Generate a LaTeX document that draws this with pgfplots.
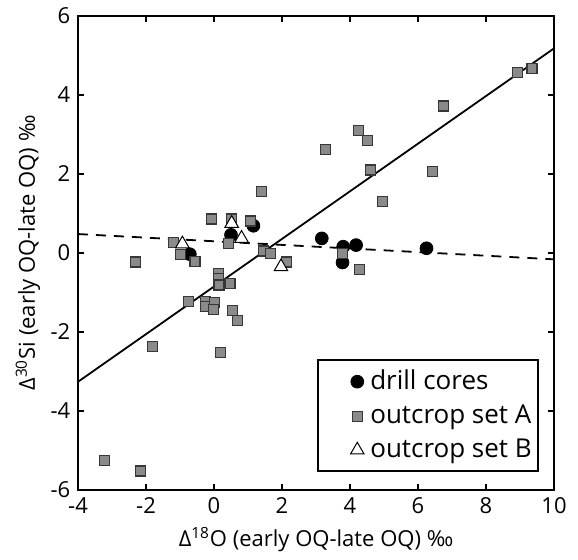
\documentclass[border=0pt]{standalone}
\usepackage{fontspec}
\setmainfont{Open Sans}
\usepackage{pgfplots}
\pgfplotsset{compat=1.18}
\definecolor{sqfill}{RGB}{138,138,138}
\definecolor{sqdraw}{RGB}{55,55,55}
\pgfplotsset{mylegimg/.style={legend image code/.code={\path[draw=none,fill=none] (0pt,-4pt) rectangle (23pt,4pt); \pgfinterruptboundingbox\draw[##1] plot coordinates {(18.5pt,0pt)};\endpgfinterruptboundingbox}}}
\begin{document}
\fontsize{11}{13}\selectfont
\begin{tikzpicture}
\path[use as bounding box] (-39pt,-34.5pt) rectangle (250pt,245pt);
\begin{axis}[
 at={(0,0)}, anchor=south west,
 scale only axis, width=238pt, height=237pt,
 xmin=-4, xmax=10, ymin=-6, ymax=6,
 xtick={-4,-2,...,10}, ytick={-6,-4,...,6},
 tick align=inside, major tick length=3pt,
 xtick pos=both, ytick pos=both,
 axis line style={line width=1pt},
 tick style={line width=0.8pt, black},
 /pgf/number format/assume math mode=true,
 ticklabel style={font=\fontsize{11}{13}\selectfont},
 xlabel={Δ\textsuperscript{18}O (early OQ-late OQ) ‰},
 ylabel={Δ\textsuperscript{30}Si (early OQ-late OQ) ‰},
 label style={font=\fontsize{11}{13}\selectfont},
 xlabel style={at={(axis description cs:0.5,-0.105)}, anchor=center},
 ylabel style={at={(axis description cs:-0.105,0.5)}, anchor=center},
 legend style={at={(0.968,0.038)}, anchor=south east, draw=black, line width=1pt,
   font=\fontsize{13}{15.5}\selectfont, row sep=2pt, inner xsep=1pt, inner ysep=3pt},
 legend cell align=left,
]
\addplot[black, line width=0.9pt, forget plot] coordinates {(-4,-3.26) (10,5.18)};
\addplot[black, line width=0.9pt, dash pattern=on 5pt off 4pt, forget plot] coordinates {(-4,0.48) (10,-0.16)};

\addplot[only marks, mark=*, mark size=3.2pt, mark options={fill=black, draw=black, line width=0.4pt}, mylegimg] coordinates {
(-0.71,-0.03) (0.50,0.46) (1.16,0.69) (3.17,0.37) (3.80,0.16) (4.18,0.20) (3.78,-0.24) (6.25,0.12)
};
\addlegendentry{drill cores}

\addplot[only marks, mark=square*, mark size=2.5pt, mark options={fill=sqfill, draw=sqdraw, line width=0.6pt}, mylegimg] coordinates {
(-2.30,-0.23) (-1.20,0.27) (-0.98,-0.03) (-0.56,-0.21) (-0.07,0.86) (0.52,0.86) (0.42,0.24)
(1.08,0.81) (1.40,1.55) (1.45,0.05) (1.66,-0.01) (2.14,-0.23) (0.13,-0.52) (0.13,-0.64)
(0.15,-0.81) (0.47,-0.77) (-0.76,-1.23) (-0.26,-1.22) (-0.24,-1.36) (0.01,-1.26) (-0.02,-1.44)
(0.55,-1.46) (0.69,-1.71) (-1.80,-2.37) (0.18,-2.52) (-3.23,-5.26) (-2.15,-5.52)
(3.29,2.63) (4.25,3.11) (4.52,2.84) (4.61,2.10) (4.95,1.30) (6.42,2.06) (6.76,3.72)
(8.92,4.57) (9.35,4.67) (3.78,-0.01) (4.29,-0.41)
};
\addlegendentry{outcrop set A}

\addplot[only marks, mark=triangle*, mark size=3.9pt, mark options={fill=white, draw=black, line width=0.5pt}, mylegimg] coordinates {
(-0.93,0.23) (0.52,0.75) (0.81,0.37) (1.97,-0.35)
};
\addlegendentry{outcrop set B}
\end{axis}
\end{tikzpicture}
\end{document}
